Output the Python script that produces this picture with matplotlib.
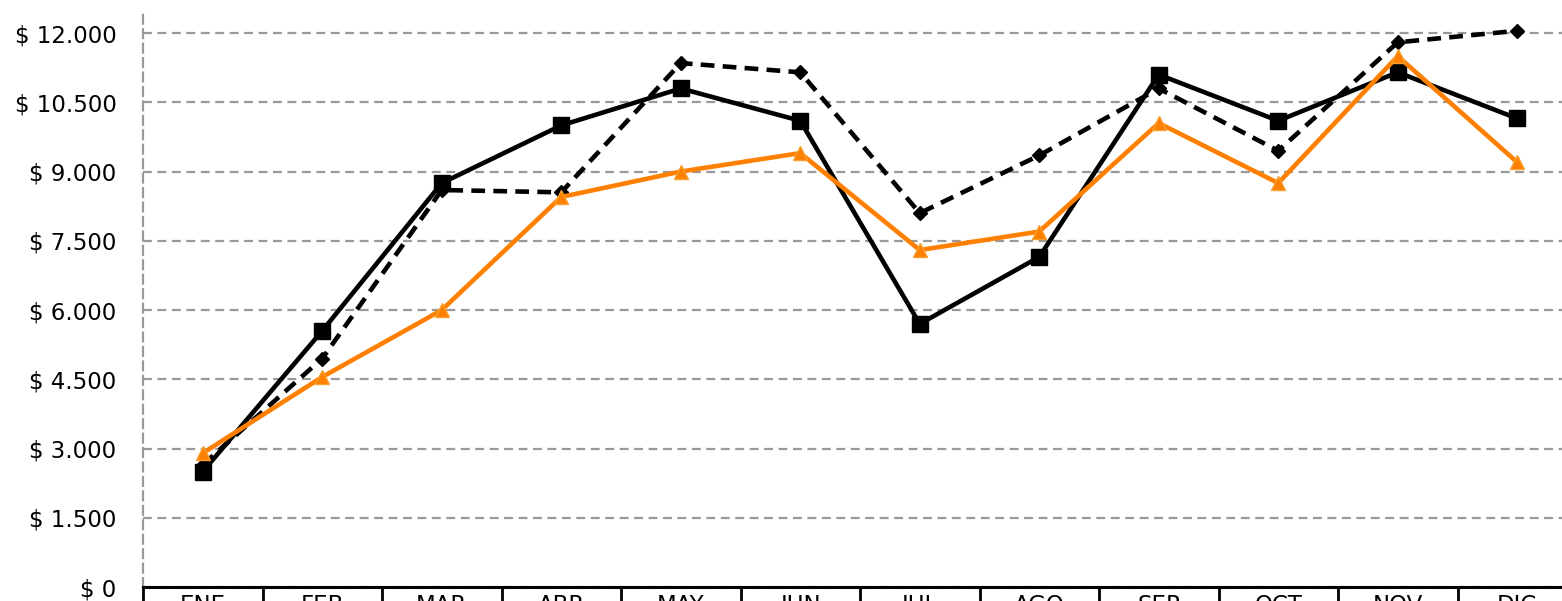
import numpy as np
import matplotlib.pyplot as plt
from matplotlib.ticker import FuncFormatter, FixedLocator

# monthly values
meses = ["ENE", "FEB", "MAR", "ABR", "MAY", "JUN",
         "JUL", "AGO", "SEP", "OCT", "NOV", "DIC"]
serie_a = [2500, 5550, 8750, 10000, 10800, 10100,
           5700, 7150, 11100, 10100, 11150, 10150]   # black solid, squares
serie_b = [2650, 4950, 8600, 8550, 11350, 11150,
           8100, 9350, 10800, 9450, 11800, 12050]    # black dashed
serie_c = [2900, 4550, 6000, 8450, 9000, 9400,
           7300, 7700, 10050, 8750, 11500, 9200]     # orange, triangles
y_ticks = np.arange(0, 12001, 1500)


def pesos(v, pos):
    return "$ " + f"{int(v):,}".replace(",", ".")


fig = plt.figure(figsize=(15.62, 6.01), dpi=100)
ax = fig.add_axes([143 / 1562, 14 / 601, 1434 / 1562, 577 / 601])

x = np.arange(len(meses))
ax.plot(x, serie_b, color="black", lw=3.3, ls=(0, (3, 1.8)),
        marker="D", ms=7, zorder=3)
ax.plot(x, serie_a, color="black", lw=3.3, marker="s", ms=11, zorder=4)
ax.plot(x, serie_c, color="#FF8000", lw=3.3, marker="^", ms=10,
        mec="#F7A030", zorder=5)

ax.set_xlim(-0.5, len(meses) - 0.5)
ax.set_ylim(0, 12500)
ax.set_yticks(y_ticks)
ax.yaxis.set_major_formatter(FuncFormatter(pesos))
ax.grid(axis="y", color="#999999", ls=(0, (4, 2.5)), lw=1.6)
ax.set_axisbelow(True)

ax.set_xticks(x)
ax.set_xticklabels(meses)
ax.xaxis.set_minor_locator(FixedLocator(np.arange(-0.5, len(meses), 1)))
ax.tick_params(axis="x", which="major", length=0, pad=5, labelsize=16.5)
ax.tick_params(axis="x", which="minor", length=20, width=2, color="black")
ax.tick_params(axis="y", length=0, pad=19, labelsize=16.5)

for side in ["top", "right"]:
    ax.spines[side].set_visible(False)
ax.spines["bottom"].set_linewidth(2.2)
ax.spines["left"].set_color("#999999")
ax.spines["left"].set_linestyle((0, (4, 2.5)))
ax.spines["left"].set_linewidth(1.6)

fig.savefig("out.png", dpi=100)
